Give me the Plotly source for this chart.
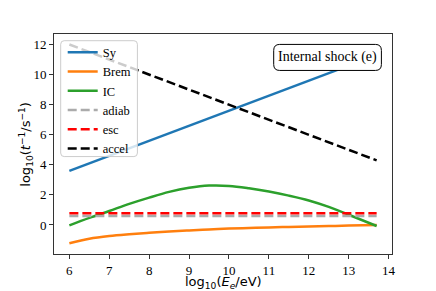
import plotly.graph_objects as go

# ---- data ----
x_lin = [6.0, 13.7]
sy = [3.6, 11.3]
accel = [12.0, 4.3]
adiab = [0.6, 0.6]
esc = [0.78, 0.78]

x_curve = [6.0, 6.5, 7.0, 7.5, 8.0, 8.5, 9.0, 9.5, 10.0, 10.5, 11.0, 11.5, 12.0, 12.5, 13.0, 13.7]
brem = [-1.22, -0.92, -0.74, -0.62, -0.52, -0.43, -0.36, -0.30, -0.24, -0.20, -0.16, -0.13, -0.10, -0.07, -0.04, 0.0]
ic = [-0.03, 0.47, 0.93, 1.40, 1.82, 2.20, 2.47, 2.62, 2.60, 2.44, 2.22, 1.95, 1.63, 1.20, 0.68, -0.07]

x_ticks = [6, 7, 8, 9, 10, 11, 12, 13, 14]
y_ticks = [0, 2, 4, 6, 8, 10, 12]

# ---- layout geometry (screen pixels; page body has an 8px margin) ----
OFF = 8
SW, SH = 436, 291
PX0, PX1, PY0, PY1 = 54.3, 392.3, 34.3, 254.0   # plot area on screen
W, H = SW - OFF, SH - OFF
L = PX0 - OFF
T = PY0 - OFF
R = SW - PX1
B = SH - PY1
PW, PH = PX1 - PX0, PY1 - PY0

def fx(px):
    return (px - PX0) / PW

def fy(py):
    return (PY1 - py) / PH

def rounded_rect(x0, y0, x1, y1, r):
    rx, ry = r / PW, r / PH
    X0, X1 = fx(x0), fx(x1)
    Y0, Y1 = fy(y1), fy(y0)  # bottom, top
    return (f"M{X0+rx},{Y1} L{X1-rx},{Y1} Q{X1},{Y1} {X1},{Y1-ry} "
            f"L{X1},{Y0+ry} Q{X1},{Y0} {X1-rx},{Y0} L{X0+rx},{Y0} "
            f"Q{X0},{Y0} {X0},{Y0+ry} L{X0},{Y1-ry} Q{X0},{Y1} {X0+rx},{Y1} Z")

LW = 2.5
DASH = "9px,4px"

fig = go.Figure()
fig.add_trace(go.Scatter(x=x_lin, y=sy, mode="lines", name="Sy",
                         line=dict(color="#1f77b4", width=LW)))
fig.add_trace(go.Scatter(x=x_curve, y=brem, mode="lines", name="Brem",
                         line=dict(color="#ff7f0e", width=LW, shape="spline")))
fig.add_trace(go.Scatter(x=x_curve, y=ic, mode="lines", name="IC",
                         line=dict(color="#2ca02c", width=LW, shape="spline")))
fig.add_trace(go.Scatter(x=x_lin, y=adiab, mode="lines", name="adiab",
                         line=dict(color="#ababab", width=LW, dash=DASH)))
fig.add_trace(go.Scatter(x=x_lin, y=esc, mode="lines", name="esc",
                         line=dict(color="#ff0000", width=LW, dash=DASH)))
fig.add_trace(go.Scatter(x=x_lin, y=accel, mode="lines", name="accel",
                         line=dict(color="#000000", width=LW, dash=DASH)))

serif = "Liberation Serif, Times New Roman, serif"
sans = "DejaVu Sans, sans-serif"

fig.update_layout(
    width=W, height=H,
    margin=dict(l=L, r=R, t=T, b=B, pad=0, autoexpand=False),
    plot_bgcolor="white", paper_bgcolor="white",
    showlegend=True,
    legend=dict(x=fx(63), y=fy(38), xanchor="left", yanchor="top",
                bgcolor="rgba(0,0,0,0)", borderwidth=0,
                font=dict(family=serif, size=12.5, color="black"),
                itemwidth=30, tracegroupgap=0),
    xaxis=dict(range=[5.615, 14.085], tickvals=x_ticks, ticktext=[str(v) for v in x_ticks],
               automargin=False,
               showgrid=False, zeroline=False, showline=True, linecolor="#333", linewidth=1,
               mirror=True, ticks="outside", ticklen=4, tickcolor="#333",
               tickfont=dict(family=serif, size=13, color="black")),
    yaxis=dict(range=[-1.93, 12.70], tickvals=y_ticks, ticktext=[str(v) for v in y_ticks],
               automargin=False,
               showgrid=False, zeroline=False, showline=True, linecolor="#333", linewidth=1,
               mirror=True, ticks="outside", ticklen=4, tickcolor="#333",
               tickfont=dict(family=serif, size=13, color="black")),
    shapes=[
        dict(type="path", xref="paper", yref="paper", layer="above",
             path=rounded_rect(61, 41, 137.7, 156.7, 3.5),
             fillcolor="rgba(255,255,255,0.8)", line=dict(color="#cccccc", width=1)),
        dict(type="path", xref="paper", yref="paper", layer="above",
             path=rounded_rect(274, 44.7, 381.7, 70.7, 6),
             fillcolor="white", line=dict(color="black", width=1)),
    ],
    annotations=[
        dict(text="Internal shock (e)", xref="paper", yref="paper",
             x=fx(327.8), y=fy(57.7), xanchor="center", yanchor="middle",
             showarrow=False, font=dict(family=serif, size=14, color="black")),
        dict(text="log<sub>10</sub>(<i>E<sub>e</sub></i>/eV)", xref="paper", yref="paper",
             x=0.5, y=fy(282.5), xanchor="center", yanchor="middle",
             showarrow=False, font=dict(family=sans, size=13, color="black")),
        dict(text="log<sub>10</sub>(<i>t</i><sup>−1</sup>/s<sup>−1</sup>)", xref="paper", yref="paper",
             x=fx(26), y=0.5, xanchor="center", yanchor="middle", textangle=-90,
             showarrow=False, font=dict(family=sans, size=13, color="black")),
    ],
)

fig.write_html("out.html")
